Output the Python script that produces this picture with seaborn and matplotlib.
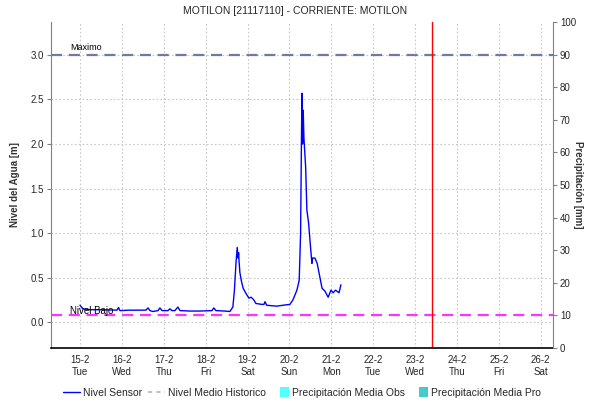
import matplotlib
matplotlib.use("Agg")
import matplotlib.pyplot as plt
from matplotlib.lines import Line2D
from matplotlib.patches import Patch, Rectangle
from matplotlib.legend_handler import HandlerPatch
import pandas as pd
import seaborn as sns

sns.set_style("white")
plt.rcParams["font.family"] = ["Liberation Sans", "DejaVu Sans"]

title = "MOTILON [21117110] - CORRIENTE: MOTILON"
start = pd.Timestamp("2022-02-15 00:00")

# sensor readings: hours after 15-2 00:00 and water level [m]
hours = [0.0, 1.7, 5.7, 11.5, 21.2, 22.1, 22.9, 28.6, 34.4, 37.8, 39.0, 40.1,
         41.8, 44.7, 45.8, 47.0, 50.4, 51.5, 52.7, 54.4, 56.1, 57.3, 63.0, 68.7,
         75.6, 76.7, 77.9, 83.0, 85.9, 87.6, 88.5, 89.4, 90.1, 90.6, 90.9, 91.1,
         91.6, 92.4, 93.5, 94.9, 96.8, 98.1, 99.6, 100.8, 104.1, 105.4, 106.0,
         107.0, 112.7, 116.3, 120.3, 122.0, 124.3, 125.6, 126.4, 126.9, 127.2,
         127.5, 127.9, 128.3, 129.3, 130.0, 131.0, 132.1, 132.9, 133.3, 134.6,
         135.9, 137.0, 138.7, 140.3, 142.2, 143.8, 145.1, 146.4, 148.4, 149.5]
level = [0.19, 0.15, 0.14, 0.14, 0.135, 0.165, 0.13, 0.135, 0.135, 0.135, 0.16, 0.13,
         0.12, 0.13, 0.16, 0.13, 0.13, 0.15, 0.13, 0.13, 0.17, 0.13, 0.125, 0.125,
         0.13, 0.16, 0.13, 0.125, 0.12, 0.17, 0.36, 0.67, 0.84, 0.72, 0.78, 0.70,
         0.56, 0.47, 0.38, 0.33, 0.27, 0.28, 0.25, 0.21, 0.20, 0.20, 0.23,
         0.19, 0.18, 0.19, 0.20, 0.25, 0.36, 0.47, 1.00, 2.07, 2.57,
         2.00, 2.38, 2.07, 1.74, 1.26, 1.11, 0.84, 0.66, 0.72, 0.72,
         0.66, 0.55, 0.38, 0.35, 0.28, 0.36, 0.33, 0.36, 0.33, 0.42]

nivel_maximo = 3.0
nivel_bajo = 0.08
now_time = pd.Timestamp("2022-02-23 09:40")
x_start = pd.Timestamp("2022-02-14 07:24")
x_end = pd.Timestamp("2022-02-26 07:00")
day_ticks = pd.date_range("2022-02-15", "2022-02-26", freq="D")
level_ticks = [0.0, 0.5, 1.0, 1.5, 2.0, 2.5, 3.0]
rain_ticks = [0, 10, 20, 30, 40, 50, 60, 70, 80, 90, 100]

df = pd.DataFrame({"fecha": [start + pd.Timedelta(hours=h) for h in hours],
                   "nivel": level})

fig = plt.figure(figsize=(5.9, 4.05), dpi=100)
ax = fig.add_axes([0.0864, 0.1407, 0.8509, 0.805])

ax.grid(True, color="#c8c8c8", linestyle=(0, (1.5, 2)), linewidth=0.8)
sns.lineplot(data=df, x="fecha", y="nivel", ax=ax, color="#0000ff",
             linewidth=1.0, legend=False)

ax.axhline(nivel_maximo, color="#6e7a9e", linestyle=(0, (5, 3)), linewidth=1.6)
ax.axhline(nivel_bajo, color="#ff33ff", linestyle=(0, (5, 3)), linewidth=1.6)
ax.axvline(now_time, color="#ff0000", linewidth=1.0)

ax.text(x_start + pd.Timedelta(hours=11), nivel_maximo + 0.03, "Maximo",
        fontsize=6.5, color="#000000", ha="left", va="bottom")
ax.text(x_start + pd.Timedelta(hours=11), nivel_bajo - 0.01, "Nivel Bajo",
        fontsize=7, color="#000000", ha="left", va="bottom")

ax.set_xlim(x_start, x_end)
ax.set_ylim(-0.29, 3.37)
ax.set_xticks(day_ticks)
ax.set_xticklabels([f"{d.day}-{d.month}\n{d.strftime('%a')}" for d in day_ticks],
                   fontsize=7)
ax.set_yticks(level_ticks)
ax.set_yticklabels([f"{v:.1f}" for v in level_ticks], fontsize=7)
ax.set_xlabel("")
ax.set_ylabel("Nivel del Agua [m]", fontsize=7, fontweight="bold", color="#333333")
ax.yaxis.set_label_coords(-0.062, 0.5)
ax.tick_params(axis="both", length=3, width=0.8, color="#808080", pad=2)

ax.spines["top"].set_visible(False)
ax.spines["right"].set_visible(False)
ax.spines["left"].set_color("#808080")
ax.spines["bottom"].set_color("#000000")
ax.spines["bottom"].set_linestyle((0, (1, 1)))
ax.spines["bottom"].set_linewidth(1.2)

ax2 = ax.twinx()
ax2.set_ylim(0, 100)
ax2.set_yticks(rain_ticks)
ax2.set_yticklabels([str(v) for v in rain_ticks], fontsize=7)
ax2.set_ylabel("Precipitación [mm]", fontsize=7, fontweight="bold",
               color="#333333", rotation=-90, va="center")
ax2.yaxis.set_label_coords(1.05, 0.5)
ax2.tick_params(axis="y", length=3, width=0.8, color="#808080", pad=2)
for side in ["top", "left", "bottom"]:
    ax2.spines[side].set_visible(False)
ax2.spines["right"].set_color("#808080")


class NarrowPatch(HandlerPatch):
    """Small square swatch aligned to the right of the handle box."""

    def create_artists(self, legend, orig_handle, xdescent, ydescent,
                       width, height, fontsize, trans):
        side = height * 1.5
        rect = Rectangle((width - side * 0.8 - xdescent, -ydescent - side * 0.15),
                         side * 0.8, side, facecolor=orig_handle.get_facecolor(),
                         edgecolor="none", transform=trans)
        return [rect]


handles = [
    Line2D([], [], color="#0000ff", linewidth=1.0),
    Line2D([], [], color="#c0c0c0", linestyle=(0, (2, 2)), linewidth=1.5),
    Patch(facecolor="#55ffff", edgecolor="none"),
    Patch(facecolor="#44cccc", edgecolor="none"),
]
labels = ["Nivel Sensor", "Nivel Medio Historico",
          "Precipitación Media Obs", "Precipitación Media Pro"]
fig.legend(handles, labels, loc="center", bbox_to_anchor=(0.512, 0.03), ncol=4,
           frameon=False, fontsize=7.5, handlelength=1.6, handletextpad=0.3,
           columnspacing=0.6, handler_map={Patch: NarrowPatch()})

fig.suptitle(title, fontsize=7.5, y=0.985)
fig.savefig("out.png", dpi=100)
